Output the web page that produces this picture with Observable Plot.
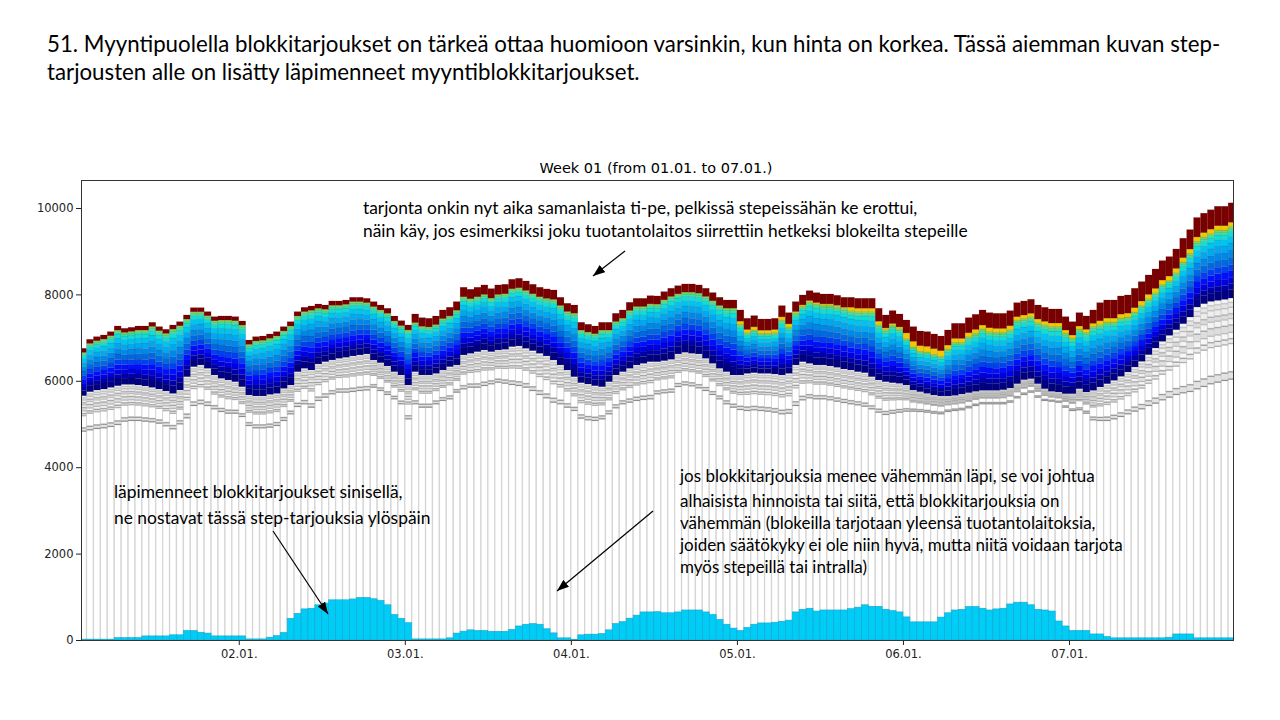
<!DOCTYPE html>
<html><head><meta charset="utf-8">
<script src="https://cdn.jsdelivr.net/npm/d3@7"></script>
<script src="https://cdn.jsdelivr.net/npm/@observablehq/plot@0.6"></script>
<style>
body{margin:0;width:1280px;height:720px;position:relative;background:#fff;overflow:hidden;}
#chart{position:absolute;left:0;top:150px;}
#overlay{position:absolute;left:0;top:0;pointer-events:none;}
</style></head>
<body>
<div id="chart"></div>
<svg id="overlay" width="1280" height="720"></svg>
<script>
// ---- data (hours 1..167 of week 01) ----
const dayTicks = [24, 48, 72, 96, 120, 144];
const dayLabels = ["02.01.", "03.01.", "04.01.", "05.01.", "06.01.", "07.01."];
const yTicks = [0, 2000, 4000, 6000, 8000, 10000];

// accepted sell block offers (MW)
const blocks = [20,20,20,20,20,55,55,55,55,95,95,95,95,120,120,220,220,180,160,95,95,95,95,95,
25,25,25,65,100,175,500,615,720,735,815,855,930,930,930,950,985,985,955,915,815,590,500,400,
25,25,25,25,25,50,160,205,235,220,220,200,200,200,245,325,365,380,365,260,165,50,50,15,
120,135,135,150,235,380,425,505,575,650,650,
655,630,630,650,695,695,695,650,590,475,365,275,220,
290,365,395,395,410,435,460,650,710,735,670,695,695,695,695,725,760,815,780,780,710,680,650,535,
420,420,420,420,530,630,695,710,775,775,735,695,720,735,835,875,875,815,710,695,670,440,325,220,
220,220,140,140,80,50,50,50,50,50,50,50,50,65,140,140,140,50,50,50,50,50,50];

// lowest low-price step level (bottom of grey steps)
const greyLow = [4846,4877,4908,4923,4954,5000,5077,5093,5093,5077,5062,5031,4969,4900,5015,5154,5440,5479,5440,5363,5301,5262,5262,5185,
4977,4923,4923,4939,4977,5093,5247,5417,5479,5401,5556,5633,5710,5749,5749,5764,5787,5800,
5864,5787,5695,5594,5479,5131,5479,5401,5401,5479,5556,5594,5749,5826,5864,5864,5903,5942,5980,5957,5926,5903,5864,5787,5695,5617,5517,5479,5401,5324,
5147,5108,5093,5131,5247,5386,5479,5517,5556,5579,5594,
5710,5733,5749,5880,5918,5895,5849,5787,5695,5594,5479,5401,5347,5324,5340,5324,5309,5286,5247,5262,5440,5571,5617,5594,5594,5571,5540,5509,5479,5455,5424,5363,5286,5232,5262,5286,5309,5309,5301,5286,5262,5247,
5301,5324,5340,5386,5440,5479,5479,5479,5479,5517,5617,5695,5749,5633,5556,5540,5517,5401,5324,5340,5262,5108,5093,5093,5131,5185,5247,5309,5363,5440,5494,5571,5633,5695,5733,5764,5826,5880,5942,5980,6019,6050];

// start of high-price (coloured) steps
const base = [5656,5749,5787,5810,5849,5887,5918,5918,5903,5880,5849,5810,5764,5710,5787,6096,6328,6367,6290,6135,6058,6019,5980,5864,
5672,5649,5649,5687,5710,5826,5903,6212,6290,6250,6390,6444,6483,6522,6545,6576,6599,6622,
6482,6420,6343,6212,6135,5903,6212,6135,6135,6173,6250,6328,6367,6599,6637,6676,6714,6676,6714,6730,6792,6807,6753,6699,6637,6576,6482,6367,6250,6096,
5957,5926,5887,5864,5980,6135,6212,6290,6367,6405,6444,
6444,6467,6498,6622,6661,6637,6622,6522,6405,6290,6212,6135,6135,6173,6189,6173,6173,6158,6135,6173,6367,6444,6405,6367,6367,6343,6313,6274,6250,6212,6189,6096,6019,5980,5957,5942,5903,5787,5749,5710,5672,5649,
5649,5664,5695,5726,5757,5780,5780,5780,5795,5834,5934,6027,6050,5934,5818,5757,5741,5703,5703,5818,5741,5780,5857,5934,6011,6104,6204,6320,6451,6606,6760,6914,7053,7184,7323,7477,7709,7786,7840,7863,7886,7917];

// total offered volume (top of stack)
const total = [6752,6960,7022,7061,7138,7269,7215,7238,7269,7269,7354,7254,7192,7292,7369,7524,7693,7693,7601,7485,7501,7501,7485,7385,
6944,7022,7037,7084,7138,7254,7369,7601,7701,7732,7778,7755,7848,7848,7871,7933,7933,7909,
7832,7755,7678,7500,7392,7292,7547,7462,7447,7500,7640,7702,7833,8165,8119,8165,8219,8134,8219,8234,8350,8373,8311,8234,8165,8127,8103,7933,7794,7755,
7354,7308,7269,7354,7354,7562,7640,7817,7909,7909,7971,
7964,8064,8142,8203,8242,8242,8219,8142,8042,7933,7871,7871,7640,7447,7509,7431,7431,7447,7740,7578,7833,7987,8087,8041,8010,8010,7979,7933,7933,7910,7910,7910,7679,7524,7625,7547,7408,7254,7153,7138,7084,7037,
7177,7331,7331,7462,7539,7640,7578,7562,7562,7624,7809,7848,7887,7755,7701,7663,7663,7485,7369,7578,7501,7640,7809,7871,7871,7964,7987,8142,8296,8450,8589,8782,8875,9052,9300,9500,9780,9880,9960,10040,10040,10120];

// highest-price step (dark red) thickness
const redStep = [95,95,95,95,95,95,95,95,95,95,95,95,95,95,95,95,95,95,95,95,95,95,95,95,
100,100,100,100,100,100,100,100,100,100,100,100,100,100,100,100,100,100,
115,115,115,115,115,115,200,200,200,200,200,200,200,
220,220,220,220,220,220,220,220,220,220,220,220,220,220,190,190,190,180,180,180,180,180,
190,190,190,190,190,190,190,190,190,190,190,190,190,190,190,190,190,190,
260,260,260,260,260,260,260,260,230,230,230,230,230,230,230,230,230,230,230,230,
300,300,300,300,300,340,340,340,340,340,
350,350,350,350,350,350,350,350,350,350,325,325,325,325,325,325,325,310,310,310,310,310,
420,420,420,420,420,450,450,450,450,450,450,450,450,450,450,450,450,450,450,450];

// yellow step thickness (just below the dark red one)
const yellowStep = [0,0,0,0,0,0,0,0,0,0,0,0,0,0,0,0,0,0,0,0,0,0,0,0,
0,0,0,0,0,0,0,0,0,0,0,0,0,0,0,0,0,0,0,0,0,0,0,0,
0,0,0,0,0,0,0,0,0,0,0,0,0,0,0,0,0,0,0,0,0,0,0,0,
0,0,0,0,0,0,0,0,0,0,0,0,0,0,0,0,0,0,0,0,0,0,0,
70,70,70,70,70,70,70,70,30,30,30,30,30,30,30,30,80,80,80,80,80,40,40,40,130,130,130,130,130,130,
90,90,90,90,90,90,90,90,90,90,80,80,80,80,80,80,80,70,70,70,70,70,90,90,90,90,90,
100,100,100,100,100,100,100,100,100,100,100,100,100,100,100];

// share of each low-price (grey) step inside the grey band, bottom to top
const greyShares = [0.09,0.35,0.06,0.08,0.09,0.08,0.06,0.08,0.06,0.05];
const greyFills  = ["#e3e3e3","#ffffff","#ebebeb","#f7f7f7","#dedede","#f3f3f3","#dadada","#eeeeee","#e5e5e5","#f5f5f5"];
const greyLines  = ["#8e8e8e","#9c9c9c","#b0b0b0","#a2a2a2","#b8b8b8","#a8a8a8","#bdbdbd","#b0b0b0","#bdbdbd","#c6c6c6"];
// share of each coloured step below yellow/red, bottom to top
const jetShares = [0.12,0.08,0.09,0.09,0.09,0.10,0.10,0.10,0.09,0.07,0.04,0.03];
const jetColors = ["#000080","#0000a8","#0000e0","#0010ff","#0040f0","#0068e0","#0088e8","#00a8f0","#00c4f0","#10dcd8","#40e0a0","#80d850"];

const hours = d3.range(1, 168);
if (![blocks, greyLow, base, total, redStep, yellowStep].every(a => a.length === hours.length)) console.error("length mismatch");

// ---- build layers ----
const whiteCols = hours.map((h, i) => ({x1: h, x2: h + 1, y2: greyLow[i]}));
const greyRects = [], colorRects = [];
hours.forEach((h, i) => {
  let y = greyLow[i];
  const gz = base[i] - greyLow[i];
  greyShares.forEach((s, k) => {
    const y2 = y + s * gz;
    greyRects.push({x1: h, x2: h + 1, y1: y, y2, fill: greyFills[k], line: greyLines[k]});
    y = y2;
  });
  const cTop = total[i] - redStep[i] - yellowStep[i];
  const cz = cTop - base[i];
  y = base[i];
  jetShares.forEach((s, k) => {
    const y2 = y + s * cz;
    colorRects.push({x1: h, x2: h + 1, y1: y, y2, fill: jetColors[k]});
    y = y2;
  });
  if (yellowStep[i] > 0) colorRects.push({x1: h, x2: h + 1, y1: cTop, y2: cTop + yellowStep[i], fill: "#f2c800"});
  colorRects.push({x1: h, x2: h + 1, y1: total[i] - redStep[i], y2: total[i], fill: "#7a0000"});
});
const blockBars = hours.map((h, i) => ({x1: h, x2: h + 1, y2: blocks[i]}));

const chart = Plot.plot({
  width: 1280, height: 520,
  marginLeft: 81, marginRight: 47, marginTop: 30, marginBottom: 30,
  x: {domain: [1.2, 167.7], ticks: dayTicks, tickFormat: d => dayLabels[dayTicks.indexOf(d)], tickSize: 5, tickPadding: 4, label: null},
  y: {domain: [0, 10648], ticks: yTicks, tickFormat: d => String(d), tickSize: 5, tickPadding: 3, label: null},
  color: {type: "identity"},
  style: {fontFamily: "DejaVu Sans", fontSize: "11.5px", color: "#222", background: "white", overflow: "visible"},
  marks: [
    Plot.rect(whiteCols, {x1: "x1", x2: "x2", y1: 0, y2: "y2", fill: "white", stroke: "#d6d6d6", strokeWidth: 1.3, clip: true}),
    Plot.rect(greyRects, {x1: "x1", x2: "x2", y1: "y1", y2: "y2", fill: "fill", stroke: "#d6d6d6", strokeWidth: 1, clip: true}),
    Plot.ruleY(greyRects, {y: "y1", x1: "x1", x2: "x2", stroke: "line", strokeWidth: 1.2, clip: true}),
    Plot.rect(colorRects, {x1: "x1", x2: "x2", y1: "y1", y2: "y2", fill: "fill", stroke: "rgba(0,0,0,0.15)", strokeWidth: 0.6, clip: true}),
    Plot.rect(blockBars, {x1: "x1", x2: "x2", y1: 0, y2: "y2", fill: "#00cdf7", stroke: "#16a6c8", strokeWidth: 0.6, clip: true}),
    Plot.frame({stroke: "#333", strokeWidth: 1})
  ]
});
document.getElementById("chart").appendChild(chart);

// ---- texts & arrows (slide annotations) ----
const ns = "http://www.w3.org/2000/svg";
const ov = document.getElementById("overlay");
const ctx = document.createElement("canvas").getContext("2d");
function fit(lines, family, refLine, target) {
  ctx.font = `100px ${family}`;
  return 100 * target / ctx.measureText(lines[refLine]).width;
}
function block(lines, x, baselines, family, size, anchor) {
  lines.forEach((t, i) => {
    const el = document.createElementNS(ns, "text");
    el.setAttribute("x", x); el.setAttribute("y", baselines[i]);
    el.setAttribute("font-family", family); el.setAttribute("font-size", size);
    el.setAttribute("fill", "#000");
    if (anchor) el.setAttribute("text-anchor", anchor);
    el.textContent = t;
    ov.appendChild(el);
  });
}
const F = "Lato, 'Open Sans', sans-serif";
const titleLines = ["51. Myyntipuolella blokkitarjoukset on tärkeä ottaa huomioon varsinkin, kun hinta on korkea. Tässä aiemman kuvan step-",
                    "tarjousten alle on lisätty läpimenneet myyntiblokkitarjoukset."];
block(titleLines, 47, [52, 80], F, fit(titleLines, F, 0, 1175));
const wk = ["Week 01 (from 01.01. to 07.01.)"];
block(wk, 656, [173], "DejaVu Sans", fit(wk, "'DejaVu Sans'", 0, 233), "middle");
const note1 = ["tarjonta onkin nyt aika samanlaista ti-pe, pelkissä stepeissähän ke erottui,",
               "näin käy, jos esimerkiksi joku tuotantolaitos siirrettiin hetkeksi blokeilta stepeille"];
block(note1, 363, [214, 237], F, fit(note1, F, 1, 605));
const note2 = ["läpimenneet blokkitarjoukset sinisellä,", "ne nostavat tässä step-tarjouksia ylöspäin"];
block(note2, 114, [498, 524], F, fit(note2, F, 1, 317));
const note3 = ["jos blokkitarjouksia menee vähemmän läpi, se voi johtua",
               "alhaisista hinnoista tai siitä, että blokkitarjouksia on",
               "vähemmän (blokeilla tarjotaan yleensä tuotantolaitoksia,",
               "joiden säätökyky ei ole niin hyvä, mutta niitä voidaan tarjota",
               "myös stepeillä tai intralla)"];
block(note3, 680, [482, 507, 529, 551, 573], F, fit(note3, F, 3, 444));

const defs = document.createElementNS(ns, "defs");
defs.innerHTML = '<marker id="ah" viewBox="0 0 12 9" refX="12" refY="4.5" markerUnits="userSpaceOnUse" markerWidth="12" markerHeight="9" orient="auto"><path d="M0,0 L12,4.5 L0,9 z" fill="#000"/></marker>';
ov.appendChild(defs);
const arrows = [[625, 251, 593, 276], [273, 531, 328, 614], [653, 511, 557, 591]];
arrows.forEach(([x1, y1, x2, y2]) => {
  const l = document.createElementNS(ns, "line");
  l.setAttribute("x1", x1); l.setAttribute("y1", y1); l.setAttribute("x2", x2); l.setAttribute("y2", y2);
  l.setAttribute("stroke", "#000"); l.setAttribute("stroke-width", 1.2); l.setAttribute("marker-end", "url(#ah)");
  ov.appendChild(l);
});
</script>
</body></html>
